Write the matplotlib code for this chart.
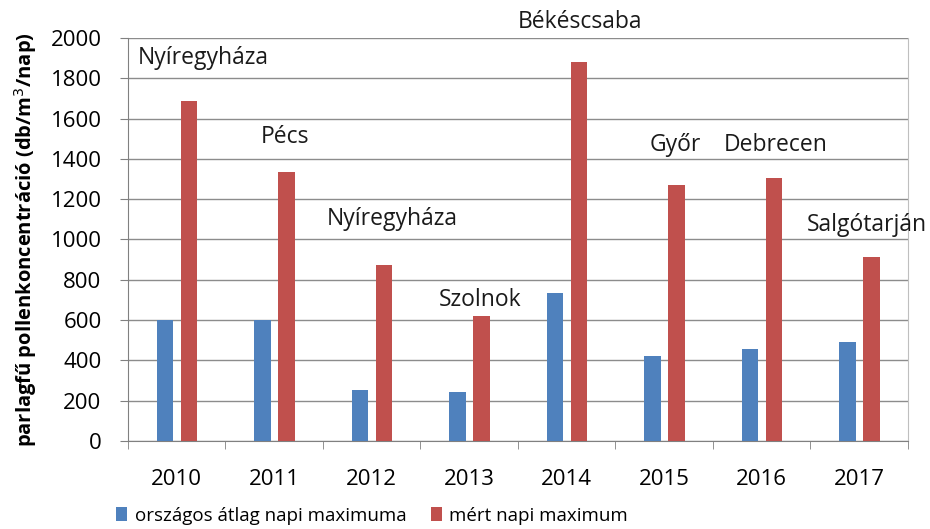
import matplotlib
matplotlib.use('Agg')
import matplotlib.pyplot as plt
import numpy as np

# --- adatok ---
years = ['2010', '2011', '2012', '2013', '2014', '2015', '2016', '2017']
atlag_max = [600, 598, 253, 245, 735, 422, 456, 491]
mert_max = [1687, 1337, 873, 620, 1882, 1270, 1305, 913]
cities = ['Nyíregyháza', 'Pécs', 'Nyíregyháza', 'Szolnok', 'Békéscsaba', 'Győr', 'Debrecen', 'Salgótarján']

# feliratok helye (kategória-index, y érték)
label_x = [0.27, 1.11, 2.21, 3.11, 4.14, 5.11, 6.14, 7.08]
label_y = [1900, 1510, 1100, 700, 2080, 1470, 1470, 1072]

BLUE = '#4f81bd'
RED = '#c0504d'

plt.rcParams['font.family'] = ['Open Sans', 'DejaVu Sans']

fig = plt.figure(figsize=(9.3, 5.29), dpi=100)
ax = fig.add_axes([0.1376, 0.1664, 0.8387, 0.7618])

x = np.arange(len(years))
w = 0.17
ax.bar(x - 0.12, atlag_max, w, color=BLUE, label='országos átlag napi maximuma', zorder=3)
ax.bar(x + 0.125, mert_max, w, color=RED, label='mért napi maximum', zorder=3)

for lx, ly, c in zip(label_x, label_y, cities):
    ax.text(lx, ly, c, ha='center', va='center', fontsize=16.5, color='#1a1a1a', clip_on=False)

ax.set_xlim(-0.5, len(years) - 0.5)
ax.set_ylim(0, 2000)
ax.set_yticks(range(0, 2001, 200))
ax.set_xticks(x)
ax.set_xticklabels(years, fontsize=16)
ax.set_xticks(np.arange(-0.5, len(years)), minor=True)
ax.tick_params(axis='x', which='major', length=0, pad=20)
ax.tick_params(axis='x', which='minor', length=6, color='#808080', direction='out')
ax.tick_params(axis='y', labelsize=16, length=6, color='#808080', direction='out', pad=13)
ax.grid(axis='y', color='#8c8c8c', linewidth=1, zorder=0)

for s in ['left', 'bottom']:
    ax.spines[s].set_color('#808080')
ax.spines['top'].set_visible(False)
ax.spines['right'].set_color('#bfbfbf')

ax.set_ylabel('parlagfű pollenkoncentráció (db/m$^3$/nap)', fontsize=14.5, fontweight='bold', labelpad=8)

fig.legend(loc='center', ncol=2, frameon=False, fontsize=13.5,
           bbox_to_anchor=(0.40, 0.025), handlelength=0.6, handleheight=0.8,
           handletextpad=0.4, columnspacing=1.3)

fig.savefig('out.png', dpi=100)
